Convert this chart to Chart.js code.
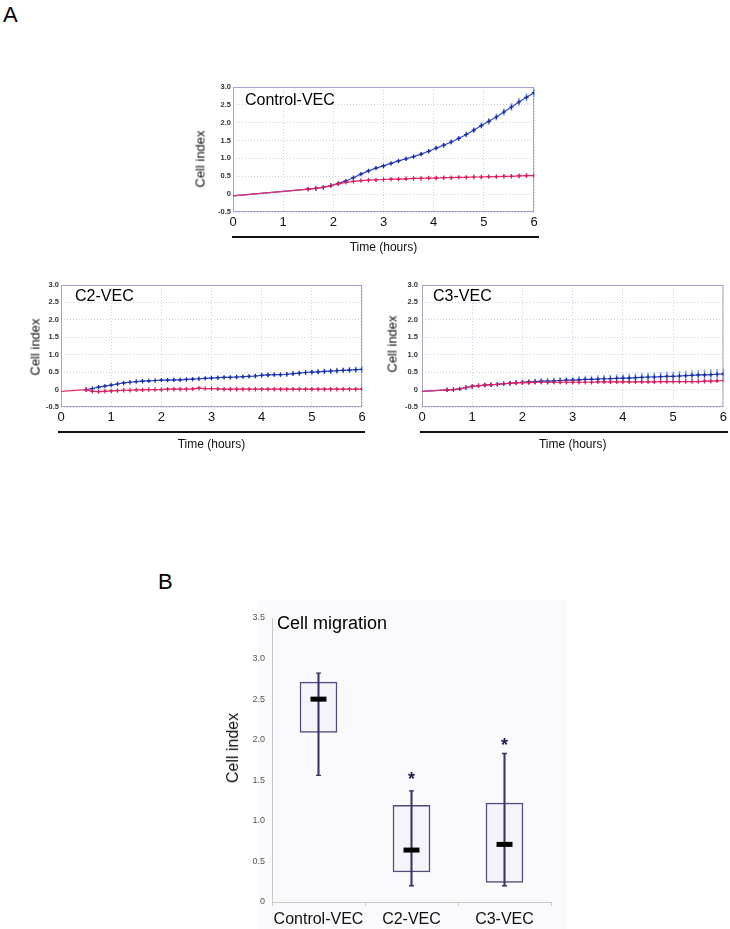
<!DOCTYPE html>
<html><head><meta charset="utf-8">
<script src="https://cdn.jsdelivr.net/npm/chart.js@4.4.1/dist/chart.umd.min.js"></script>
<style>
body{margin:0;background:#fff;width:730px;height:929px;position:relative;overflow:hidden;font-family:"Liberation Sans",Arial,sans-serif;}
canvas{position:absolute;}
.lbl{position:absolute;white-space:nowrap;color:#000;line-height:1;}
.yt{position:absolute;white-space:nowrap;color:#111;line-height:1;transform:translate(-50%,-50%) rotate(-90deg);}
.rule{position:absolute;height:2px;background:#111;}
.panel{position:absolute;background:#fafafd;}
</style></head><body>
<div class="lbl" style="left:3px;top:4px;font-size:22px">A</div>
<div class="lbl" style="left:158px;top:571px;font-size:22px">B</div>
<div class="panel" style="left:258px;top:600px;width:309px;height:329px"></div>

<canvas id="cCtrl" width="360" height="180" style="left:185px;top:80px"></canvas>
<canvas id="cC2" width="355" height="185" style="left:20px;top:270px"></canvas>
<canvas id="cC3" width="353" height="185" style="left:377px;top:270px"></canvas>
<canvas id="cBox" width="350" height="329" style="left:215px;top:600px"></canvas>

<div class="lbl" style="left:245px;top:92px;font-size:16px">Control-VEC</div>
<div class="lbl" style="left:75px;top:288px;font-size:16px">C2-VEC</div>
<div class="lbl" style="left:433px;top:288px;font-size:16px">C3-VEC</div>
<div class="lbl" style="left:277px;top:614px;font-size:18px">Cell migration</div>

<div class="yt" style="left:200px;top:159px;font-size:13px">Cell index</div>
<div class="yt" style="left:35px;top:347px;font-size:13px">Cell index</div>
<div class="yt" style="left:392px;top:344px;font-size:13px">Cell index</div>
<div class="yt" style="left:233px;top:748px;font-size:16px">Cell index</div>

<div class="rule" style="left:232px;top:236px;width:307px"></div>
<div class="rule" style="left:58px;top:431px;width:307px"></div>
<div class="rule" style="left:420px;top:431px;width:308px"></div>

<script>
// ---------- Panel A: time courses (hours, cell index) ----------
const ctrlTime = [0, 1.5, 1.65, 1.8, 1.95, 2.1, 2.25, 2.4, 2.55, 2.7, 2.85, 3.0, 3.15, 3.3, 3.45, 3.6, 3.75, 3.9, 4.05, 4.2, 4.35, 4.5, 4.65, 4.8, 4.95, 5.1, 5.25, 5.4, 5.55, 5.7, 5.85, 6.0];
const ctrlBlue = [-0.05, 0.14, 0.16, 0.19, 0.24, 0.30, 0.37, 0.46, 0.56, 0.65, 0.73, 0.79, 0.86, 0.93, 0.99, 1.05, 1.12, 1.20, 1.29, 1.37, 1.46, 1.56, 1.67, 1.79, 1.92, 2.04, 2.16, 2.30, 2.44, 2.58, 2.71, 2.84];
const ctrlBlueErr = [0, 0.01, 0.01, 0.01, 0.015, 0.02, 0.02, 0.025, 0.03, 0.03, 0.035, 0.04, 0.04, 0.045, 0.045, 0.05, 0.05, 0.055, 0.06, 0.06, 0.065, 0.07, 0.075, 0.08, 0.085, 0.09, 0.095, 0.10, 0.105, 0.11, 0.115, 0.12];
const ctrlRed = [-0.05, 0.14, 0.16, 0.19, 0.24, 0.29, 0.33, 0.36, 0.38, 0.39, 0.40, 0.41, 0.42, 0.42, 0.43, 0.44, 0.44, 0.45, 0.45, 0.46, 0.46, 0.47, 0.47, 0.48, 0.48, 0.49, 0.49, 0.50, 0.50, 0.51, 0.52, 0.52];
const ctrlRedErr = [0, 0.01, 0.01, 0.01, 0.015, 0.02, 0.02, 0.02, 0.025, 0.025, 0.03, 0.03, 0.03, 0.035, 0.035, 0.035, 0.04, 0.04, 0.04, 0.045, 0.045, 0.045, 0.05, 0.05, 0.05, 0.055, 0.055, 0.06, 0.06, 0.065, 0.065, 0.07];

const c2Time = [0, 0.5, 0.625, 0.75, 0.875, 1, 1.125, 1.25, 1.375, 1.5, 1.625, 1.75, 1.875, 2, 2.125, 2.25, 2.375, 2.5, 2.625, 2.75, 2.875, 3, 3.125, 3.25, 3.375, 3.5, 3.625, 3.75, 3.875, 4, 4.125, 4.25, 4.375, 4.5, 4.625, 4.75, 4.875, 5, 5.125, 5.25, 5.375, 5.5, 5.625, 5.75, 5.875, 6];
const c2Blue = [null, 0.00, 0.03, 0.07, 0.10, 0.13, 0.16, 0.19, 0.21, 0.23, 0.24, 0.25, 0.26, 0.27, 0.27, 0.28, 0.28, 0.29, 0.30, 0.31, 0.32, 0.33, 0.34, 0.35, 0.35, 0.36, 0.37, 0.38, 0.39, 0.41, 0.42, 0.43, 0.43, 0.44, 0.46, 0.47, 0.49, 0.50, 0.51, 0.52, 0.53, 0.54, 0.55, 0.56, 0.57, 0.58];
const c2BlueErr = [null, 0.01, 0.01, 0.015, 0.015, 0.02, 0.02, 0.02, 0.025, 0.025, 0.025, 0.03, 0.03, 0.03, 0.03, 0.035, 0.035, 0.035, 0.04, 0.04, 0.04, 0.045, 0.045, 0.045, 0.05, 0.05, 0.05, 0.055, 0.055, 0.06, 0.06, 0.06, 0.065, 0.065, 0.07, 0.07, 0.07, 0.075, 0.075, 0.08, 0.08, 0.085, 0.085, 0.09, 0.09, 0.095];
const c2Red = [-0.05, 0.00, -0.05, -0.06, -0.05, -0.04, -0.03, -0.02, -0.02, -0.01, -0.01, 0.00, 0.00, 0.00, 0.01, 0.01, 0.01, 0.01, 0.02, 0.04, 0.03, 0.03, 0.02, 0.01, 0.01, 0.01, 0.01, 0.01, 0.01, 0.01, 0.01, 0.01, 0.01, 0.01, 0.01, 0.01, 0.01, 0.01, 0.01, 0.01, 0.01, 0.01, 0.01, 0.01, 0.01, 0.01];
const c2RedErr = [0, 0.01, 0.01, 0.01, 0.01, 0.01, 0.01, 0.01, 0.01, 0.01, 0.01, 0.01, 0.01, 0.01, 0.01, 0.01, 0.01, 0.015, 0.015, 0.015, 0.015, 0.015, 0.015, 0.015, 0.015, 0.015, 0.015, 0.015, 0.015, 0.015, 0.015, 0.015, 0.015, 0.015, 0.015, 0.015, 0.015, 0.015, 0.015, 0.015, 0.02, 0.02, 0.02, 0.02, 0.02, 0.02];

const c3Time = [0, 0.5, 0.625, 0.75, 0.875, 1, 1.125, 1.25, 1.375, 1.5, 1.625, 1.75, 1.875, 2, 2.125, 2.25, 2.375, 2.5, 2.625, 2.75, 2.875, 3, 3.125, 3.25, 3.375, 3.5, 3.625, 3.75, 3.875, 4, 4.125, 4.25, 4.375, 4.5, 4.625, 4.75, 4.875, 5, 5.125, 5.25, 5.375, 5.5, 5.625, 5.75, 5.875, 6];
const c3Blue = [-0.05, -0.01, 0.00, 0.02, 0.06, 0.09, 0.11, 0.13, 0.14, 0.15, 0.17, 0.18, 0.20, 0.21, 0.22, 0.23, 0.24, 0.24, 0.25, 0.26, 0.27, 0.27, 0.28, 0.29, 0.29, 0.30, 0.31, 0.31, 0.32, 0.33, 0.33, 0.34, 0.35, 0.36, 0.36, 0.37, 0.38, 0.38, 0.39, 0.40, 0.41, 0.42, 0.42, 0.43, 0.44, 0.45];
const c3BlueErr = [0, 0.01, 0.01, 0.015, 0.02, 0.03, 0.035, 0.04, 0.045, 0.05, 0.055, 0.06, 0.065, 0.07, 0.075, 0.08, 0.08, 0.085, 0.09, 0.09, 0.095, 0.10, 0.10, 0.105, 0.11, 0.11, 0.115, 0.115, 0.12, 0.12, 0.125, 0.125, 0.13, 0.13, 0.13, 0.135, 0.135, 0.14, 0.14, 0.14, 0.145, 0.145, 0.15, 0.15, 0.15, 0.155];
const c3Red = [-0.05, -0.01, 0.00, 0.02, 0.06, 0.09, 0.11, 0.13, 0.14, 0.15, 0.17, 0.18, 0.19, 0.20, 0.20, 0.21, 0.21, 0.21, 0.21, 0.21, 0.21, 0.21, 0.21, 0.21, 0.21, 0.22, 0.22, 0.22, 0.22, 0.22, 0.22, 0.22, 0.22, 0.22, 0.22, 0.23, 0.23, 0.23, 0.23, 0.23, 0.23, 0.23, 0.24, 0.24, 0.25, 0.26];
const c3RedErr = [0, 0.01, 0.01, 0.01, 0.01, 0.01, 0.015, 0.015, 0.015, 0.015, 0.015, 0.015, 0.015, 0.02, 0.02, 0.02, 0.02, 0.02, 0.02, 0.02, 0.02, 0.02, 0.02, 0.02, 0.02, 0.02, 0.025, 0.025, 0.025, 0.025, 0.025, 0.025, 0.025, 0.025, 0.025, 0.025, 0.03, 0.03, 0.03, 0.03, 0.03, 0.03, 0.03, 0.03, 0.03, 0.03];

const timeTicks = [0, 1, 2, 3, 4, 5, 6];
const indexTicks = ['-0.5', '0', '0.5', '1.0', '1.5', '2.0', '2.5', '3.0'];

// ---------- Panel B: box plot ----------
const boxCats = ['Control-VEC', 'C2-VEC', 'C3-VEC'];
const boxQ1 = [2.09, 0.37, 0.24];
const boxQ3 = [2.71, 1.19, 1.22];
const boxMedian = [2.50, 0.64, 0.71];
const whiskerLow = [1.56, 0.20, 0.20];
const whiskerHigh = [2.82, 1.37, 1.83];
const starAt = [null, 1.56, 1.98];
const boxTicks = ['0', '0.5', '1.0', '1.5', '2.0', '2.5', '3.0', '3.5'];

Chart.defaults.font.family = '"Liberation Sans", Arial, sans-serif';

function pts(t, v, e) {
  const out = [];
  t.forEach((x, i) => { if (v[i] != null) out.push({x: x, y: v[i], e: e[i] || 0}); });
  return out;
}

const errorBarPlugin = {
  id: 'errorBars',
  beforeDatasetsDraw(chart) {
    const {ctx, scales: {x, y}} = chart;
    chart.data.datasets.forEach((ds) => {
      if (!ds.errorColor) return;
      ctx.save();
      ctx.strokeStyle = ds.errorColor;
      ctx.lineWidth = 1.6;
      ds.data.forEach((p) => {
        if (!p.e || p.x === 0) return;
        const px = x.getPixelForValue(p.x);
        ctx.beginPath();
        ctx.moveTo(px, y.getPixelForValue(p.y - p.e));
        ctx.lineTo(px, y.getPixelForValue(p.y + p.e));
        ctx.stroke();
      });
      ctx.restore();
    });
  }
};

const framePlugin = {
  id: 'frame',
  beforeDatasetsDraw(chart) {
    const {ctx, chartArea: a} = chart;
    ctx.save();
    ctx.strokeStyle = '#a4a4cc';
    ctx.lineWidth = 1;
    ctx.strokeRect(a.left + 0.5, a.top + 0.5, a.right - a.left - 1, a.bottom - a.top - 1);
    ctx.restore();
  }
};

function timeChart(id, layout, redPts, bluePts) {
  const series = [];
  series.push({
    data: redPts, borderColor: '#e2306f', borderWidth: 1.2, errorColor: '#f39ab8',
    pointStyle: 'cross', pointBorderColor: '#d61d5d', pointBorderWidth: 1.2,
    pointRadius: c => (c.raw && c.raw.x === 0) ? 0 : 2.2
  });
  series.push({
    data: bluePts, borderColor: '#2b48d0', borderWidth: 1.2, errorColor: '#86a6f0',
    pointStyle: 'cross', pointBorderColor: '#1a2c9a', pointBorderWidth: 1.2,
    pointRadius: c => (c.raw && c.raw.x === 0) ? 0 : 2.2
  });
  return new Chart(document.getElementById(id), {
    type: 'line',
    data: {datasets: series},
    plugins: [framePlugin, errorBarPlugin],
    options: {
      responsive: false, animation: false, devicePixelRatio: 1,
      layout: {padding: {top: layout.top, right: layout.right, left: 0, bottom: 0}},
      plugins: {legend: {display: false}, tooltip: {enabled: false}},
      elements: {line: {tension: 0}},
      scales: {
        x: {
          type: 'linear', min: 0, max: 6,
          afterFit: s => { s.height = 48; },
          afterBuildTicks: s => { s.ticks = timeTicks.map(v => ({value: v})); },
          ticks: {font: {size: 13}, color: '#111', padding: 3, maxRotation: 0, callback: v => String(v)},
          grid: {color: '#cfd0ea', drawTicks: false},
          border: {display: false, dash: [1, 2]},
          title: {display: true, text: 'Time (hours)', font: {size: 12}, color: '#111', padding: {top: 0, bottom: layout.titlePad}}
        },
        y: {
          type: 'linear', min: -0.5, max: 3.0,
          afterFit: s => { s.width = layout.yWidth; },
          afterBuildTicks: s => { s.ticks = indexTicks.map(v => ({value: parseFloat(v)})); },
          ticks: {font: {size: 7.5, weight: 'bold'}, color: '#333', padding: layout.yPad,
                  callback: (v, i) => indexTicks[i]},
          grid: {color: '#cfd0ea', drawTicks: false},
          border: {display: false, dash: [1, 2]}
        }
      }
    }
  });
}

timeChart('cCtrl', {top: 7, right: 11, yWidth: 48, yPad: 2, titlePad: 5},
  pts(ctrlTime, ctrlRed, ctrlRedErr), pts(ctrlTime, ctrlBlue, ctrlBlueErr));
timeChart('cC2', {top: 15, right: 13, yWidth: 41, yPad: 2, titlePad: 3},
  pts(c2Time, c2Red, c2RedErr), pts(c2Time, c2Blue, c2BlueErr));
timeChart('cC3', {top: 15, right: 6, yWidth: 45, yPad: 4, titlePad: 3},
  pts(c3Time, c3Red, c3RedErr), pts(c3Time, c3Blue, c3BlueErr));

// ---------- Box plot ----------
const starPlugin = {
  id: 'stars',
  afterDatasetsDraw(chart) {
    const {ctx, scales: {x, y}} = chart;
    ctx.save();
    ctx.fillStyle = '#1c1c4e';
    ctx.font = 'bold 18px "Liberation Sans", Arial, sans-serif';
    ctx.textAlign = 'center';
    ctx.textBaseline = 'alphabetic';
    starAt.forEach((v, i) => {
      if (v == null) return;
      ctx.fillText('*', x.getPixelForValue(i), y.getPixelForValue(v) + 10);
    });
    ctx.restore();
  }
};

const boxEdge = '#54497a';
new Chart(document.getElementById('cBox'), {
  type: 'bar',
  data: {
    labels: boxCats,
    datasets: [
      {type: 'line', data: boxMedian, showLine: false, pointStyle: 'line', pointRadius: 8,
       pointBorderWidth: 5, pointBorderColor: '#000', order: 0},
      {type: 'line', data: whiskerHigh, showLine: false, pointStyle: 'line', pointRadius: 2.5,
       pointBorderWidth: 1.3, pointBorderColor: '#3c3264', order: 1},
      {type: 'line', data: whiskerLow, showLine: false, pointStyle: 'line', pointRadius: 2.5,
       pointBorderWidth: 1.3, pointBorderColor: '#3c3264', order: 1},
      {type: 'bar', data: whiskerLow.map((v, i) => [v, whiskerHigh[i]]), barThickness: 1.4,
       backgroundColor: '#3c3264', borderWidth: 0, grouped: false, order: 2},
      {type: 'bar', data: boxQ1.map((v, i) => [v, boxQ3[i]]), barThickness: 37,
       backgroundColor: '#f5f4fa', borderColor: boxEdge, borderWidth: 1.5, borderSkipped: false,
       grouped: false, order: 3}
    ]
  },
  plugins: [starPlugin],
  options: {
    responsive: false, animation: false, devicePixelRatio: 1,
    layout: {padding: {top: 18, right: 14, left: 0, bottom: 0}},
    plugins: {legend: {display: false}, tooltip: {enabled: false}},
    scales: {
      x: {
        afterFit: s => { s.height = 27; },
        ticks: {font: {size: 16}, color: '#111', padding: 4, maxRotation: 0, minRotation: 0, autoSkip: false},
        grid: {drawOnChartArea: false, drawTicks: true, tickLength: 4, color: '#c8c8c8'},
        border: {color: '#c8c8c8'}
      },
      y: {
        min: 0, max: 3.5,
        afterFit: s => { s.width = 57; },
        afterBuildTicks: s => { s.ticks = boxTicks.map(v => ({value: parseFloat(v)})); },
        ticks: {font: {size: 9}, color: '#555', padding: 7, callback: (v, i) => boxTicks[i]},
        grid: {display: false, drawTicks: false},
        border: {color: '#c8c8c8'}
      }
    }
  }
});
</script>
</body></html>
